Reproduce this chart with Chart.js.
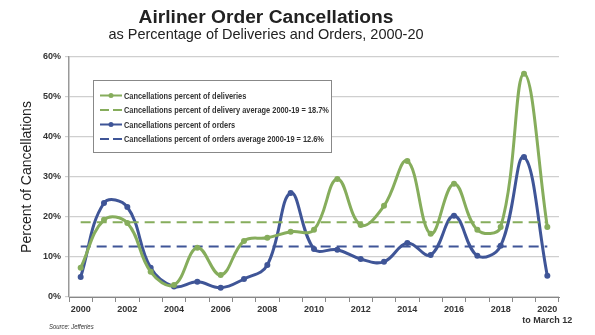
<!DOCTYPE html>
<html>
<head>
<meta charset="utf-8">
<script src="https://cdn.jsdelivr.net/npm/chart.js@4.4.0/dist/chart.umd.min.js"></script>
<style>
  html, body { margin: 0; padding: 0; background: #fff; }
  #wrap { position: relative; width: 595px; height: 335px; font-family: "Liberation Sans", Arial, sans-serif; }
  #grafico { position: absolute; left: 0; top: 0; }
  .titulo { position: absolute; left: 0; width: 532px; text-align: center; color: #222; white-space: nowrap; }
  #t1 { top: 6px; font-size: 19.2px; font-weight: bold; }
  #t2 { top: 26px; font-size: 14.5px; }
  #fuente { position: absolute; left: 49px; top: 323px; font-size: 7px; font-style: italic; color: #333;
    transform: scaleX(0.85); transform-origin: left center; }
</style>
</head>
<body>
<div id="wrap">
  <canvas id="grafico" width="595" height="335"></canvas>
  <div class="titulo" id="t1">Airliner Order Cancellations</div>
  <div class="titulo" id="t2">as Percentage of Deliveries and Orders, 2000-20</div>
  <div id="fuente">Source: Jefferies</div>
</div>
<script>
// Datos
const anios = ['2000','2001','2002','2003','2004','2005','2006','2007','2008','2009','2010',
  '2011','2012','2013','2014','2015','2016','2017','2018','2019','2020'];

const pctEntregas = [7.3, 19.3, 18.5, 6.3, 3.0, 12.3, 5.5, 14.0, 14.8, 16.3, 16.8,
  29.5, 18.0, 22.8, 34.0, 15.8, 28.3, 16.8, 17.5, 55.8, 17.5];

const pctPedidos = [5.0, 23.5, 22.5, 7.3, 2.6, 3.8, 2.3, 4.5, 8.0, 26.0, 12.0,
  11.8, 9.5, 8.8, 13.5, 10.5, 20.3, 10.3, 12.8, 35.0, 5.3];

const promEntregas = 18.7;
const promPedidos = 12.6;

const yTicks = [0, 10, 20, 30, 40, 50, 60];

const verde = '#86ad5c';
const azul = '#3f5597';

const series = [
  { label: 'Cancellations percent of deliveries', data: pctEntregas, color: verde, dash: [], punto: true },
  { label: 'Cancellations percent of delivery average 2000-19 = 18.7%', data: anios.map(() => promEntregas), color: verde, dash: [10, 6], punto: false },
  { label: 'Cancellations percent of orders', data: pctPedidos, color: azul, dash: [], punto: true },
  { label: 'Cancellations percent of orders average 2000-19 = 12.6%', data: anios.map(() => promPedidos), color: azul, dash: [10, 6], punto: false }
];

// Leyenda dibujada dentro del area del grafico, con letra estrecha
const leyendaCaja = {
  id: 'leyendaCaja',
  afterDraw(chart) {
    const ctx = chart.ctx;
    const x0 = 93, y0 = 80, w = 238, h = 72;
    ctx.save();
    ctx.fillStyle = '#fff';
    ctx.fillRect(x0, y0, w, h);
    ctx.strokeStyle = '#888';
    ctx.lineWidth = 1;
    ctx.strokeRect(x0 + 0.5, y0 + 0.5, w, h);
    chart.data.datasets.forEach((ds, i) => {
      const y = y0 + 15.5 + i * 14.5;
      ctx.strokeStyle = ds.borderColor;
      ctx.lineWidth = 2;
      ctx.setLineDash([]);
      ctx.beginPath();
      if (ds.borderDash.length) {
        ctx.moveTo(x0 + 7, y); ctx.lineTo(x0 + 16, y);
        ctx.moveTo(x0 + 20, y); ctx.lineTo(x0 + 29, y);
      } else {
        ctx.moveTo(x0 + 7, y); ctx.lineTo(x0 + 29, y);
      }
      ctx.stroke();
      if (!ds.borderDash.length) {
        ctx.fillStyle = ds.borderColor;
        ctx.beginPath();
        ctx.arc(x0 + 18, y, 2.5, 0, Math.PI * 2);
        ctx.fill();
      }
      ctx.save();
      ctx.translate(x0 + 31, y);
      ctx.scale(0.78, 1);
      ctx.fillStyle = '#333';
      ctx.font = 'bold 9.5px "Liberation Sans"';
      ctx.textBaseline = 'middle';
      ctx.fillText(ds.label, 0, 0.5);
      ctx.restore();
    });
    ctx.restore();
  }
};

new Chart(document.getElementById('grafico'), {
  type: 'line',
  data: {
    labels: anios,
    datasets: series.map(s => ({
      label: s.label,
      data: s.data,
      borderColor: s.color,
      backgroundColor: s.color,
      borderWidth: s.punto ? 3 : 2,
      borderDash: s.dash,
      pointRadius: s.punto ? 3 : 0,
      pointBorderWidth: 0,
      tension: s.punto ? 0.4 : 0
    }))
  },
  plugins: [leyendaCaja],
  options: {
    responsive: false,
    animation: false,
    layout: { padding: { top: 57, right: 36, left: 0, bottom: 0 } },
    plugins: {
      legend: { display: false },
      tooltip: { enabled: false }
    },
    scales: {
      x: {
        offset: true,
        grid: { drawOnChartArea: false, offset: true, tickLength: 5, color: '#888' },
        border: { color: '#888', width: 1 },
        ticks: {
          autoSkip: false,
          maxRotation: 0,
          padding: 2,
          color: '#333',
          font: { family: 'Liberation Sans', size: 9, weight: 'bold' },
          callback: function (v, i) {
            if (i === anios.length - 1) return [anios[i], 'to March 12'];
            return i % 2 === 0 ? anios[i] : '';
          }
        },
        afterFit: s => { s.height = 38; }
      },
      y: {
        min: 0,
        max: 60,
        afterBuildTicks: s => { s.ticks = yTicks.map(v => ({ value: v })); },
        grid: { color: '#cfcfcf', tickLength: 4, lineWidth: 1.2 },
        border: { color: '#999', width: 1.5 },
        ticks: {
          padding: 4,
          color: '#333',
          font: { family: 'Liberation Sans', size: 9, weight: 'bold' },
          callback: v => v + '%'
        },
        title: {
          display: true,
          text: 'Percent of Cancellations',
          color: '#222',
          font: { family: 'Liberation Sans', size: 14 },
          padding: { top: 19, bottom: 0 }
        },
        afterFit: s => { s.width = 69; }
      }
    }
  }
});
</script>
</body>
</html>
